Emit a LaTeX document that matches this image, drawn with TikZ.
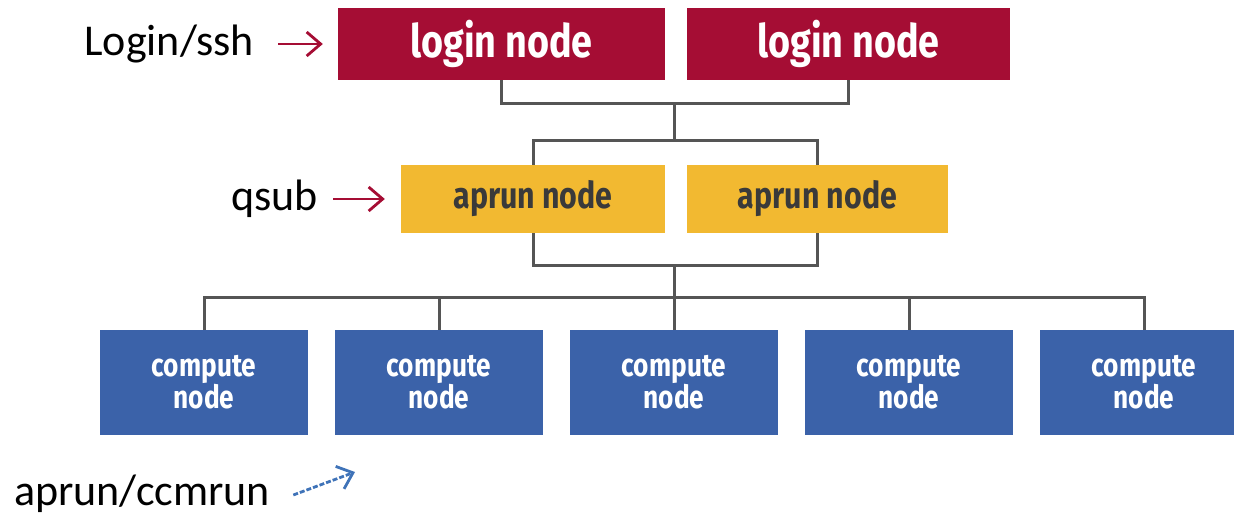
\documentclass[tikz,border=0pt]{standalone}
\usepackage{fontspec}
\setmainfont{Carlito}
\newfontfamily\boxfont{Fira Sans}[FakeStretch=0.82]
\usetikzlibrary{arrows.meta}
\definecolor{loginred}{HTML}{A50D34}
\definecolor{aprunyel}{HTML}{F2B931}
\definecolor{compblue}{HTML}{3B62A9}
\definecolor{linegray}{HTML}{555555}
\definecolor{aprtext}{HTML}{3A3A3A}
\definecolor{arrblue}{HTML}{3F73B8}
\tikzset{
  loginbox/.style={fill=loginred, text=white, minimum height=72pt, inner sep=0pt,
    font=\boxfont\bfseries\fontsize{46}{48}\selectfont},
  aprunbox/.style={fill=aprunyel, text=aprtext, minimum height=68pt, inner sep=0pt,
    font=\boxfont\bfseries\fontsize{37}{39}\selectfont},
  compbox/.style={fill=compblue, text=white, minimum width=208pt, minimum height=105pt, inner sep=0pt,
    align=center, font=\boxfont\bfseries\fontsize{32}{32}\selectfont},
  lbl/.style={inner sep=0pt, font=\fontsize{44}{46}\selectfont, text=black},
  conn/.style={draw=linegray, line width=3pt},
  redarrow/.style={draw=loginred, line width=2.8pt, -{Straight Barb[length=14pt,width=24pt,line width=2.8pt]}},
  bluearrow/.style={draw=arrblue, line width=2.8pt, dash pattern=on 5pt off 2pt, -{Straight Barb[length=14pt,width=24pt,line width=2.8pt]}}
}
\begin{document}
\begin{tikzpicture}[x=1pt,y=-1pt]
\useasboundingbox (0,0) rectangle (1234,523);
\clip (0,0) rectangle (1234,523);
% login row
\node[loginbox, minimum width=327pt] (l1) at (501.5,44) {login node};
\node[loginbox, minimum width=323pt] (l2) at (848.5,44) {login node};
% aprun row
\node[aprunbox, minimum width=264pt] (a1) at (533,199) {aprun node};
\node[aprunbox, minimum width=261pt] (a2) at (817.5,199) {aprun node};
% compute row
\node[compbox] (c1) at (204,382.5) {compute\\node};
\node[compbox] (c2) at (439,382.5) {compute\\node};
\node[compbox] (c3) at (674,382.5) {compute\\node};
\node[compbox] (c4) at (909,382.5) {compute\\node};
\node[compbox] (c5) at (1144,382.5) {compute\\node};
% junctions
\coordinate (j1) at (674,103);
\coordinate (j2) at (674,140);
\coordinate (j3) at (674,265);
\coordinate (j4) at (674,297);
% connectors
\draw[conn] (l1.south) |- (j1) -| (l2.south);
\draw[conn] (j1) -- (j2);
\draw[conn] (a1.north) |- (j2) -| (a2.north);
\draw[conn] (a1.south) |- (j3) -| (a2.south);
\draw[conn] (j3) -- (c3.north);
\draw[conn] (c1.north) |- (j4) -| (c5.north);
\draw[conn] (c2.north) -- (c2.north |- j4);
\draw[conn] (c4.north) -- (c4.north |- j4);
% labels
\node[lbl, anchor=east] (t1) at (254,44) {Login/ssh};
\node[lbl, anchor=east] (t2) at (318,199) {qsub};
\node[lbl, anchor=west] (t3) at (14,494) {aprun/ccmrun};
\coordinate (b3) at (355,472);
\draw[redarrow] ([xshift=24pt]t1.east) -- ([xshift=-15pt]l1.west);
\draw[redarrow] ([xshift=15pt]t2.east) -- ([xshift=-16pt]a1.west);
\draw[bluearrow] ([xshift=23pt,yshift=-1pt]t3.east) -- (b3);
\end{tikzpicture}
\end{document}
